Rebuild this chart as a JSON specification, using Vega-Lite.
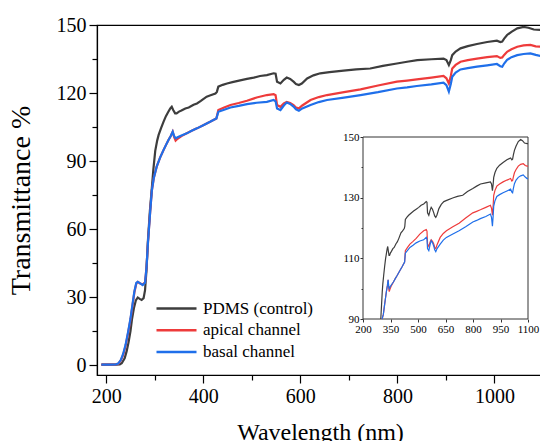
{
"$schema":"https://vega.github.io/schema/vega-lite/v6.json",
"autosize":{"type":"none"},
"padding":{"left":97,"top":25,"right":0,"bottom":66},
"width":446,"height":350,
"config":{"font":"Liberation Serif","view":{"stroke":"#000","strokeWidth":1.2},"axis":{"labelFont":"Liberation Serif","titleFont":"Liberation Serif"},"legend":{"labelFont":"Liberation Serif"}},
"datasets":{"spec":[
{"s":"PDMS (control)","w":190,"t":0.2},{"s":"PDMS (control)","w":200,"t":0.2},{"s":"PDMS (control)","w":210,"t":0.2},{"s":"PDMS (control)","w":220,"t":0.2},{"s":"PDMS (control)","w":228,"t":0.3},{"s":"PDMS (control)","w":232,"t":0.8},{"s":"PDMS (control)","w":238,"t":3},{"s":"PDMS (control)","w":242,"t":6},{"s":"PDMS (control)","w":246,"t":10},{"s":"PDMS (control)","w":250,"t":15},{"s":"PDMS (control)","w":253,"t":20},{"s":"PDMS (control)","w":257,"t":25},{"s":"PDMS (control)","w":261,"t":28.5},{"s":"PDMS (control)","w":265,"t":29.8},{"s":"PDMS (control)","w":269,"t":29.2},{"s":"PDMS (control)","w":273,"t":28.7},{"s":"PDMS (control)","w":277,"t":29.5},{"s":"PDMS (control)","w":280,"t":33},{"s":"PDMS (control)","w":283,"t":42},{"s":"PDMS (control)","w":286,"t":55},{"s":"PDMS (control)","w":290,"t":68},{"s":"PDMS (control)","w":294,"t":78},{"s":"PDMS (control)","w":297,"t":86},{"s":"PDMS (control)","w":301,"t":94.5},{"s":"PDMS (control)","w":305,"t":99},{"s":"PDMS (control)","w":308,"t":101.5},{"s":"PDMS (control)","w":313,"t":104.5},{"s":"PDMS (control)","w":318,"t":107.3},{"s":"PDMS (control)","w":323,"t":109.8},{"s":"PDMS (control)","w":328,"t":111.7},{"s":"PDMS (control)","w":332,"t":113.2},{"s":"PDMS (control)","w":335,"t":113.9},{"s":"PDMS (control)","w":338,"t":112.5},{"s":"PDMS (control)","w":342,"t":111},{"s":"PDMS (control)","w":345,"t":111},{"s":"PDMS (control)","w":350,"t":111.8},{"s":"PDMS (control)","w":355,"t":112.3},{"s":"PDMS (control)","w":363,"t":113.2},{"s":"PDMS (control)","w":370,"t":113.6},{"s":"PDMS (control)","w":380,"t":114.8},{"s":"PDMS (control)","w":387,"t":115.4},{"s":"PDMS (control)","w":395,"t":116.5},{"s":"PDMS (control)","w":407,"t":118.4},{"s":"PDMS (control)","w":415,"t":119},{"s":"PDMS (control)","w":425,"t":119.8},{"s":"PDMS (control)","w":428,"t":120.5},{"s":"PDMS (control)","w":431,"t":122.8},{"s":"PDMS (control)","w":440,"t":123.6},{"s":"PDMS (control)","w":449,"t":124.2},{"s":"PDMS (control)","w":460,"t":124.8},{"s":"PDMS (control)","w":476,"t":125.6},{"s":"PDMS (control)","w":490,"t":126.2},{"s":"PDMS (control)","w":504,"t":126.8},{"s":"PDMS (control)","w":517,"t":127.5},{"s":"PDMS (control)","w":531,"t":127.9},{"s":"PDMS (control)","w":545,"t":128.7},{"s":"PDMS (control)","w":549,"t":128.5},{"s":"PDMS (control)","w":552,"t":125},{"s":"PDMS (control)","w":559,"t":124.2},{"s":"PDMS (control)","w":566,"t":125.8},{"s":"PDMS (control)","w":572,"t":126.8},{"s":"PDMS (control)","w":579,"t":126.2},{"s":"PDMS (control)","w":586,"t":125},{"s":"PDMS (control)","w":591,"t":124},{"s":"PDMS (control)","w":597,"t":123.5},{"s":"PDMS (control)","w":603,"t":124.2},{"s":"PDMS (control)","w":614,"t":126.4},{"s":"PDMS (control)","w":627,"t":127.8},{"s":"PDMS (control)","w":641,"t":128.7},{"s":"PDMS (control)","w":660,"t":129.2},{"s":"PDMS (control)","w":689,"t":129.9},{"s":"PDMS (control)","w":715,"t":130.4},{"s":"PDMS (control)","w":744,"t":130.8},{"s":"PDMS (control)","w":770,"t":132},{"s":"PDMS (control)","w":799,"t":133},{"s":"PDMS (control)","w":820,"t":133.8},{"s":"PDMS (control)","w":841,"t":134.5},{"s":"PDMS (control)","w":870,"t":134.9},{"s":"PDMS (control)","w":895,"t":135.2},{"s":"PDMS (control)","w":901,"t":134.5},{"s":"PDMS (control)","w":906,"t":132.3},{"s":"PDMS (control)","w":910,"t":134.5},{"s":"PDMS (control)","w":913,"t":136.7},{"s":"PDMS (control)","w":920,"t":138.3},{"s":"PDMS (control)","w":930,"t":139.7},{"s":"PDMS (control)","w":945,"t":140.7},{"s":"PDMS (control)","w":964,"t":141.6},{"s":"PDMS (control)","w":985,"t":142.5},{"s":"PDMS (control)","w":1005,"t":143.1},{"s":"PDMS (control)","w":1012,"t":142.5},{"s":"PDMS (control)","w":1016,"t":142.7},{"s":"PDMS (control)","w":1020,"t":144},{"s":"PDMS (control)","w":1026,"t":145.6},{"s":"PDMS (control)","w":1035,"t":147},{"s":"PDMS (control)","w":1047,"t":148.5},{"s":"PDMS (control)","w":1060,"t":149.2},{"s":"PDMS (control)","w":1070,"t":148.8},{"s":"PDMS (control)","w":1081,"t":148},{"s":"PDMS (control)","w":1095,"t":147.8},{"s":"PDMS (control)","w":1100,"t":147.8},
{"s":"apical channel","w":190,"t":0.2},{"s":"apical channel","w":200,"t":0.2},{"s":"apical channel","w":210,"t":0.2},{"s":"apical channel","w":220,"t":0.3},{"s":"apical channel","w":225,"t":0.6},{"s":"apical channel","w":230,"t":2},{"s":"apical channel","w":235,"t":4.5},{"s":"apical channel","w":240,"t":8.5},{"s":"apical channel","w":245,"t":14},{"s":"apical channel","w":250,"t":20},{"s":"apical channel","w":254,"t":26},{"s":"apical channel","w":258,"t":32},{"s":"apical channel","w":262,"t":36},{"s":"apical channel","w":265,"t":36.7},{"s":"apical channel","w":270,"t":36},{"s":"apical channel","w":275,"t":35.5},{"s":"apical channel","w":280,"t":36.5},{"s":"apical channel","w":283,"t":43},{"s":"apical channel","w":286,"t":54},{"s":"apical channel","w":290,"t":66},{"s":"apical channel","w":294,"t":77},{"s":"apical channel","w":298,"t":82.5},{"s":"apical channel","w":304,"t":87.5},{"s":"apical channel","w":311,"t":91.5},{"s":"apical channel","w":318,"t":94.8},{"s":"apical channel","w":323,"t":97},{"s":"apical channel","w":328,"t":99.2},{"s":"apical channel","w":333,"t":101},{"s":"apical channel","w":337,"t":102.9},{"s":"apical channel","w":340,"t":100.5},{"s":"apical channel","w":343,"t":99},{"s":"apical channel","w":347,"t":99.8},{"s":"apical channel","w":355,"t":101},{"s":"apical channel","w":366,"t":102.2},{"s":"apical channel","w":376,"t":103.3},{"s":"apical channel","w":387,"t":104.4},{"s":"apical channel","w":400,"t":105.8},{"s":"apical channel","w":414,"t":107.3},{"s":"apical channel","w":427,"t":108.8},{"s":"apical channel","w":431,"t":112.5},{"s":"apical channel","w":443,"t":113.6},{"s":"apical channel","w":456,"t":114.7},{"s":"apical channel","w":473,"t":115.6},{"s":"apical channel","w":490,"t":116.6},{"s":"apical channel","w":510,"t":118},{"s":"apical channel","w":531,"t":119.1},{"s":"apical channel","w":545,"t":119.5},{"s":"apical channel","w":549,"t":119},{"s":"apical channel","w":552,"t":114.7},{"s":"apical channel","w":559,"t":113.9},{"s":"apical channel","w":566,"t":115.4},{"s":"apical channel","w":572,"t":116.1},{"s":"apical channel","w":579,"t":115.6},{"s":"apical channel","w":586,"t":114.7},{"s":"apical channel","w":591,"t":113.6},{"s":"apical channel","w":597,"t":113.2},{"s":"apical channel","w":604,"t":114.5},{"s":"apical channel","w":621,"t":116.9},{"s":"apical channel","w":638,"t":118.2},{"s":"apical channel","w":655,"t":119.1},{"s":"apical channel","w":690,"t":120.4},{"s":"apical channel","w":724,"t":121.6},{"s":"apical channel","w":760,"t":123.3},{"s":"apical channel","w":799,"t":125},{"s":"apical channel","w":820,"t":125.5},{"s":"apical channel","w":840,"t":126},{"s":"apical channel","w":870,"t":126.8},{"s":"apical channel","w":895,"t":127.5},{"s":"apical channel","w":901,"t":126.5},{"s":"apical channel","w":906,"t":124.2},{"s":"apical channel","w":910,"t":127.5},{"s":"apical channel","w":913,"t":130.8},{"s":"apical channel","w":920,"t":132.4},{"s":"apical channel","w":930,"t":133.8},{"s":"apical channel","w":945,"t":134.5},{"s":"apical channel","w":964,"t":135.2},{"s":"apical channel","w":985,"t":135.8},{"s":"apical channel","w":1005,"t":136.3},{"s":"apical channel","w":1012,"t":135.5},{"s":"apical channel","w":1016,"t":135.7},{"s":"apical channel","w":1020,"t":136.8},{"s":"apical channel","w":1026,"t":138.2},{"s":"apical channel","w":1035,"t":139.3},{"s":"apical channel","w":1047,"t":140.4},{"s":"apical channel","w":1060,"t":141},{"s":"apical channel","w":1074,"t":141.2},{"s":"apical channel","w":1085,"t":140.6},{"s":"apical channel","w":1095,"t":140.4},{"s":"apical channel","w":1100,"t":140.4},
{"s":"basal channel","w":190,"t":0.2},{"s":"basal channel","w":200,"t":0.2},{"s":"basal channel","w":210,"t":0.2},{"s":"basal channel","w":220,"t":0.3},{"s":"basal channel","w":225,"t":0.7},{"s":"basal channel","w":230,"t":2.2},{"s":"basal channel","w":235,"t":5},{"s":"basal channel","w":240,"t":9},{"s":"basal channel","w":245,"t":14.5},{"s":"basal channel","w":250,"t":20.5},{"s":"basal channel","w":254,"t":26.5},{"s":"basal channel","w":258,"t":32.5},{"s":"basal channel","w":262,"t":36.2},{"s":"basal channel","w":265,"t":36.7},{"s":"basal channel","w":270,"t":36},{"s":"basal channel","w":275,"t":35.3},{"s":"basal channel","w":280,"t":36.3},{"s":"basal channel","w":283,"t":43},{"s":"basal channel","w":286,"t":54},{"s":"basal channel","w":290,"t":66},{"s":"basal channel","w":294,"t":77},{"s":"basal channel","w":298,"t":82.5},{"s":"basal channel","w":304,"t":87.5},{"s":"basal channel","w":311,"t":91.5},{"s":"basal channel","w":318,"t":94.8},{"s":"basal channel","w":323,"t":97},{"s":"basal channel","w":328,"t":99.2},{"s":"basal channel","w":333,"t":101},{"s":"basal channel","w":337,"t":102.9},{"s":"basal channel","w":340,"t":101},{"s":"basal channel","w":343,"t":100},{"s":"basal channel","w":347,"t":100.5},{"s":"basal channel","w":355,"t":101.3},{"s":"basal channel","w":366,"t":102.2},{"s":"basal channel","w":376,"t":103.3},{"s":"basal channel","w":387,"t":104.4},{"s":"basal channel","w":400,"t":105.8},{"s":"basal channel","w":414,"t":107.3},{"s":"basal channel","w":427,"t":108.8},{"s":"basal channel","w":431,"t":111.7},{"s":"basal channel","w":443,"t":112.6},{"s":"basal channel","w":456,"t":113.6},{"s":"basal channel","w":473,"t":114.3},{"s":"basal channel","w":490,"t":115.1},{"s":"basal channel","w":510,"t":115.7},{"s":"basal channel","w":531,"t":116.1},{"s":"basal channel","w":545,"t":116.9},{"s":"basal channel","w":549,"t":116.3},{"s":"basal channel","w":552,"t":113.2},{"s":"basal channel","w":559,"t":112.5},{"s":"basal channel","w":566,"t":114.5},{"s":"basal channel","w":572,"t":115.8},{"s":"basal channel","w":579,"t":115.2},{"s":"basal channel","w":586,"t":114},{"s":"basal channel","w":591,"t":112.8},{"s":"basal channel","w":597,"t":112.2},{"s":"basal channel","w":604,"t":113.2},{"s":"basal channel","w":621,"t":114.7},{"s":"basal channel","w":638,"t":116},{"s":"basal channel","w":655,"t":116.9},{"s":"basal channel","w":690,"t":118},{"s":"basal channel","w":724,"t":119.1},{"s":"basal channel","w":760,"t":120.4},{"s":"basal channel","w":799,"t":122},{"s":"basal channel","w":820,"t":122.5},{"s":"basal channel","w":840,"t":123.1},{"s":"basal channel","w":870,"t":123.8},{"s":"basal channel","w":895,"t":124.6},{"s":"basal channel","w":901,"t":123.5},{"s":"basal channel","w":906,"t":120.6},{"s":"basal channel","w":910,"t":124},{"s":"basal channel","w":913,"t":127.2},{"s":"basal channel","w":920,"t":129},{"s":"basal channel","w":930,"t":130.4},{"s":"basal channel","w":945,"t":131},{"s":"basal channel","w":964,"t":131.6},{"s":"basal channel","w":985,"t":132.2},{"s":"basal channel","w":1005,"t":132.8},{"s":"basal channel","w":1012,"t":131.8},{"s":"basal channel","w":1016,"t":131.6},{"s":"basal channel","w":1020,"t":133},{"s":"basal channel","w":1026,"t":134.6},{"s":"basal channel","w":1035,"t":135.8},{"s":"basal channel","w":1047,"t":136.7},{"s":"basal channel","w":1060,"t":137.2},{"s":"basal channel","w":1074,"t":137.5},{"s":"basal channel","w":1085,"t":136.8},{"s":"basal channel","w":1095,"t":136.3},{"s":"basal channel","w":1100,"t":136.3}
],
"frame":[{"x1":200,"x2":1100,"y1":90,"y2":150}]},
"layer":[
{"data":{"name":"spec"},
 "mark":{"type":"line","strokeWidth":2.2,"clip":true},
 "encoding":{
  "x":{"field":"w","type":"quantitative","scale":{"domain":[181,1100],"nice":false,"zero":false},
   "axis":{"orient":"bottom","title":"Wavelength (nm)","titleFont":"Liberation Serif","titleFontSize":24,"titleFontWeight":"normal","titleColor":"#000","titlePadding":14,
    "values":[200,300,400,500,600,700,800,900,1000,1100],"format":"d",
    "labelExpr":"datum.value % 200 === 0 && datum.value <= 1000 ? datum.label : ''",
    "labelFont":"Liberation Serif","labelFontSize":20,"labelColor":"#000","labelPadding":3,"labelOverlap":false,"labelBound":false,"labelFlush":false,
    "grid":false,"domainColor":"#000","domainWidth":1.2,"tickColor":"#000","tickWidth":1.2,
    "tickSize":{"condition":{"test":"datum.value % 200 === 0","value":8},"value":5}}},
  "y":{"field":"t","type":"quantitative","scale":{"domain":[-4.4,150],"nice":false,"zero":false},
   "axis":{"orient":"left","title":"Transmittance %","titleFont":"Liberation Serif","titleFontSize":28,"titleFontWeight":"normal","titleColor":"#000","titlePadding":21,
    "values":[0,15,30,45,60,75,90,105,120,135,150],"format":"d",
    "labelExpr":"datum.value % 30 === 0 ? datum.label : ''",
    "labelFont":"Liberation Serif","labelFontSize":20,"labelColor":"#000","labelPadding":3,"labelOverlap":false,"labelBound":false,"labelFlush":false,
    "grid":false,"domainColor":"#000","domainWidth":1.2,"tickColor":"#000","tickWidth":1.2,
    "tickSize":{"condition":{"test":"datum.value % 30 === 0","value":8},"value":5}}},
  "color":{"field":"s","type":"nominal",
   "scale":{"domain":["PDMS (control)","apical channel","basal channel"],"range":["#3d3d3d","#ee3b3b","#1f6fea"]},
   "legend":{"title":null,"orient":"none","legendX":68,"legendY":272,"symbolType":"M-2,0H2","symbolSize":400,"symbolStrokeWidth":2.5,"symbolFillColor":"transparent",
    "labelFont":"Liberation Serif","labelFontSize":17,"labelColor":"#000","labelOffset":15,"rowPadding":1.7}}}},
{"data":{"name":"frame"},
 "mark":{"type":"rect","fill":"#fff","stroke":"#333","strokeWidth":1},
 "encoding":{
  "x":{"field":"x1","type":"quantitative","scale":{"domain":[200,1100],"range":[266,431],"nice":false,"zero":false},"axis":null},
  "x2":{"field":"x2"},
  "y":{"field":"y1","type":"quantitative","scale":{"domain":[90,150],"range":[294,112],"nice":false,"zero":false},"axis":null},
  "y2":{"field":"y2"}}},
{"data":{"name":"spec"},
 "transform":[{"filter":"datum.t >= 85"}],
 "mark":{"type":"line","strokeWidth":1.2},
 "encoding":{
  "x":{"field":"w","type":"quantitative","scale":{"domain":[200,1100],"range":[266,431],"nice":false,"zero":false,"clamp":true},
   "axis":{"orient":"bottom","offset":-56,"title":null,"values":[200,350,500,650,800,950,1100],"format":"d","labelFont":"Liberation Serif","labelFontSize":11,"labelColor":"#000","labelPadding":1,
    "labelOverlap":false,"labelBound":false,"labelFlush":false,"grid":false,"domain":false,"tickColor":"#333","tickSize":3}},
  "y":{"field":"t","type":"quantitative","scale":{"domain":[90,150],"range":[294,112],"nice":false,"zero":false,"clamp":true},
   "axis":{"orient":"left","offset":-266,"title":null,"values":[90,100,110,120,130,140,150],"format":"d",
    "labelExpr":"datum.value % 20 === 10 ? datum.label : ''",
    "labelFont":"Liberation Serif","labelFontSize":11,"labelColor":"#000","labelPadding":1,"labelOverlap":false,"labelBound":false,"labelFlush":false,"grid":false,"domain":false,"tickColor":"#333",
    "tickSize":{"condition":{"test":"datum.value % 20 === 10","value":3},"value":2}}},
  "color":{"field":"s","type":"nominal","legend":null}}}
],
"resolve":{"scale":{"x":"independent","y":"independent"}}
}
